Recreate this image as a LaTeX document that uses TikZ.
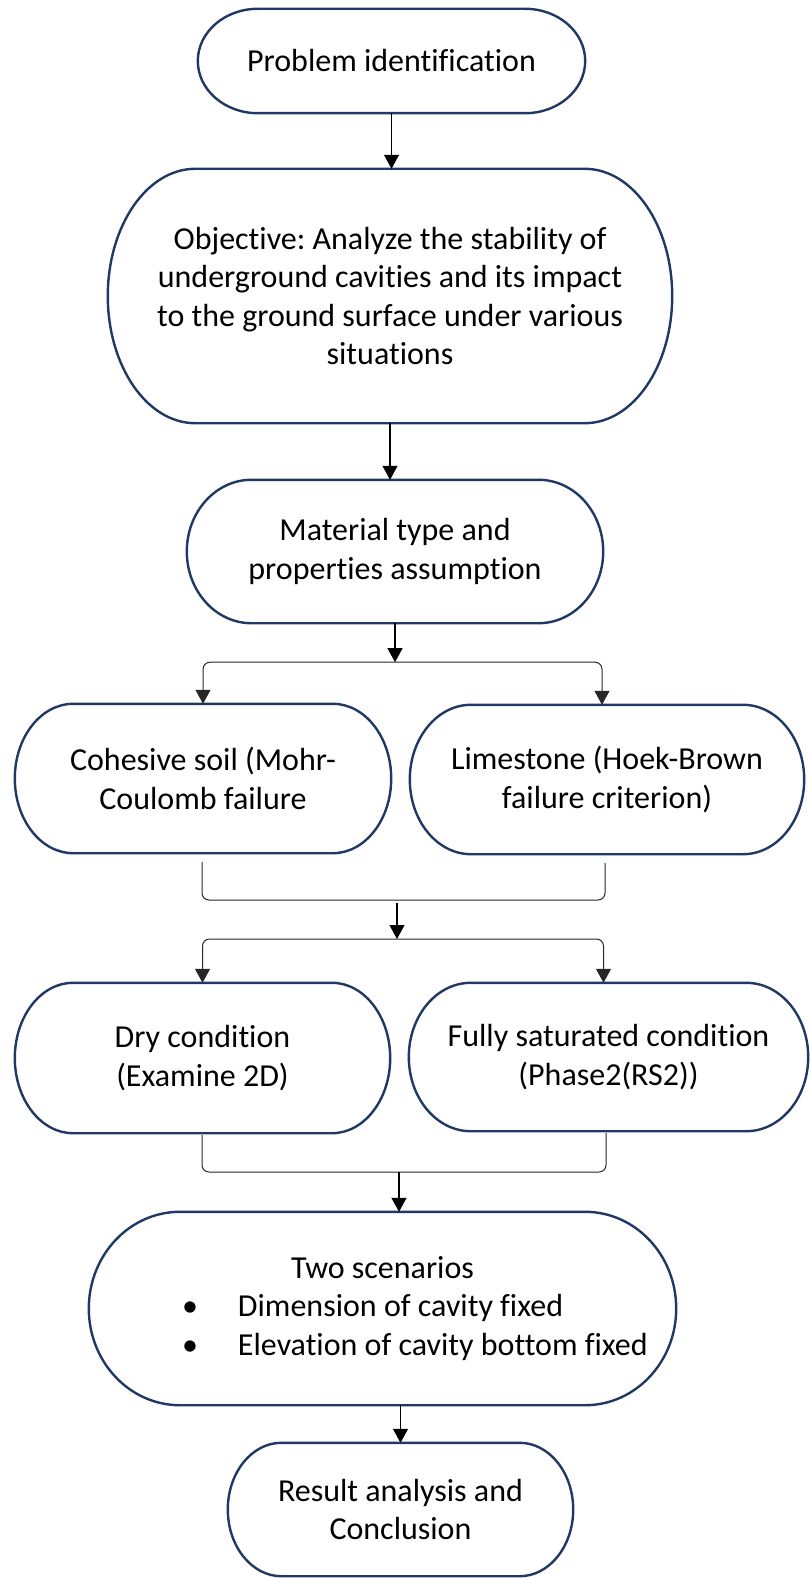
\documentclass[tikz,border=0pt]{standalone}
\usepackage{fontspec}
\setmainfont{Carlito}[Ligatures={NoCommon}]
\usetikzlibrary{arrows.meta, calc, positioning}
\definecolor{termblue}{RGB}{32,56,100}
\newcommand{\termfont}{\fontsize{32}{38.5}\selectfont\frenchspacing}
% viền khối kết thúc (góc elip kiểu Word)
\newcommand{\termline}[1]{%
  \draw[termedge] let \p1=(#1.north west), \p2=(#1.south east),
      \n1={0.155*(\x2-\x1)}, \n2={0.5*(\y1-\y2)} in
    (\x1+\n1,\y1) -- (\x2-\n1,\y1)
    arc[start angle=90, end angle=-90, x radius={\n1*1pt}, y radius={\n2*1pt}]
    -- (\x1+\n1,\y2)
    arc[start angle=270, end angle=90, x radius={\n1*1pt}, y radius={\n2*1pt}]
    -- cycle;}

\begin{document}
\begin{tikzpicture}[x=1pt, y=-1pt,
    term/.style={rectangle, inner sep=0pt, align=center, font=\termfont},
    termedge/.style={draw=termblue, line width=2.4pt},
    link/.style={draw=black, line width=1.1pt, -{Triangle[width=15pt,length=14pt]}},
    bracket/.style={draw=black!85, line width=1pt, rounded corners=7pt}]
    \useasboundingbox (0,0) rectangle (809,1578);

    % Các khối
    \node[term, minimum width=387pt, minimum height=104pt] (prob) at (391.5,61) {Problem identification};
    \node[term, minimum width=564pt, minimum height=254pt] (obj) at (390,296)
        {Objective: Analyze the stability of\\underground cavities and its impact\\to the ground surface under various\\situations};
    \node[term, minimum width=416pt, minimum height=143pt] (mat) at (395,551.5) {Material type and\\properties assumption};
    \node[term, minimum width=376pt, minimum height=149pt] (coh) at (203,778.5) {Cohesive soil (Mohr-\\Coulomb failure};
    \node[term, minimum width=394pt, minimum height=149pt] (lime) at (607,779.5) {Limestone (Hoek-Brown\\failure criterion)};
    \node[term, minimum width=375pt, minimum height=150pt] (dry) at (202.5,1058) {Dry condition\\(Examine 2D)};
    \node[term, minimum width=399pt, minimum height=148pt] (sat) at (608.5,1057) {Fully saturated condition\\(Phase2(RS2))};
    \node[term, minimum width=587pt, minimum height=193pt] (two) at (382.5,1308.5)
        {Two scenarios\\
         \makebox[401pt][l]{\makebox[56pt][l]{\textbullet}Dimension of cavity fixed}\\
         \makebox[401pt][l]{\makebox[56pt][l]{\textbullet}Elevation of cavity bottom fixed}};
    \node[term, minimum width=345pt, minimum height=133pt] (res) at (400.5,1509.5) {Result analysis and\\Conclusion};

    \foreach \b in {prob,obj,mat,coh,lime,dry,sat,two,res}
        \termline{\b};

    % Mũi tên thẳng
    \draw[link] (prob.south) -- (prob.south |- obj.north);
    \draw[link] (obj.south) -- (obj.south |- mat.north);

    % Rẽ nhánh 1
    \coordinate (f1) at ($(mat.south)+(0,39)$);
    \draw[link] (mat.south) -- (f1);
    \draw[link, bracket] (f1) -| (coh.north);
    \draw[link, bracket] (f1) -| ($(lime.north)+(-5,0)$);

    % Gộp 1
    \coordinate (j1) at (397,900);
    \draw[bracket] ($(coh.south)+(-1,9)$) |- (j1) -| ($(lime.south)+(-2,9)$);
    \coordinate (f2) at ($(j1)+(0,39)$);
    \draw[link] ($(j1)+(0,3)$) -- (f2);
    \draw[link, bracket] (f2) -| (dry.north);
    \draw[link, bracket] (f2) -| ($(sat.north)+(-5,0)$);

    % Gộp 2
    \coordinate (j2) at (399,1172);
    \draw[bracket] ($(dry.south)+(-0.5,2)$) |- (j2) -| ($(sat.south)+(-2.5,2)$);
    \draw[link] (j2) -- (j2 |- two.north);
    \draw[link] (res.north |- two.south) -- (res.north);
\end{tikzpicture}
\end{document}
